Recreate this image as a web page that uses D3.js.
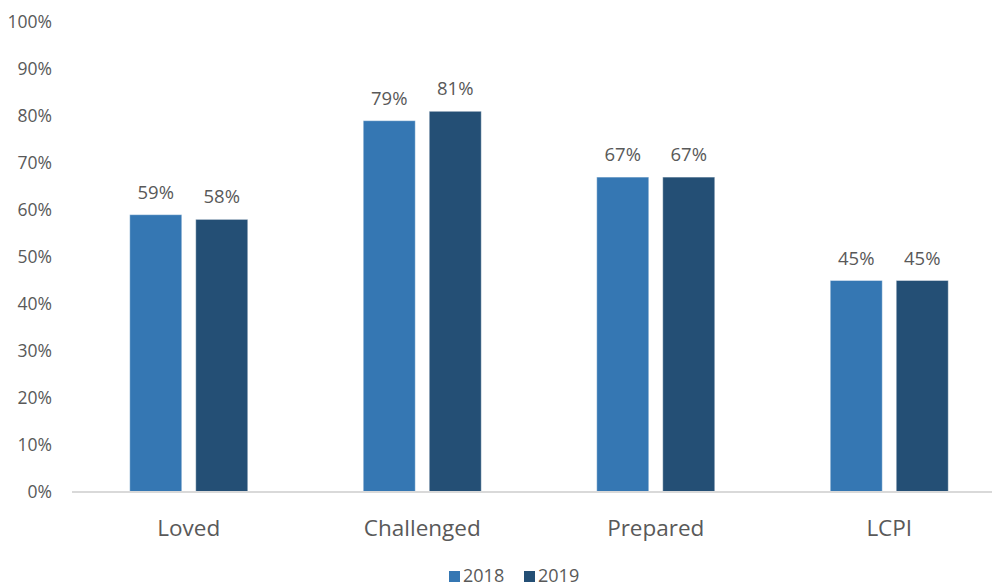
<!DOCTYPE html>
<html>
<head>
<meta charset="utf-8">
<script src="https://cdn.jsdelivr.net/npm/d3@7"></script>
<style>
html,body{margin:0;padding:0;background:#fff;}
svg{display:block;}
text{font-family:"Open Sans","Noto Sans",sans-serif;fill:#595959;}
</style>
</head>
<body>
<svg id="chart" width="992" height="586"></svg>
<script>
const categories = ["Loved", "Challenged", "Prepared", "LCPI"];
const series = ["2018", "2019"];
const values2018 = [59, 79, 67, 45];
const values2019 = [58, 81, 67, 45];
const yTicks = [0, 10, 20, 30, 40, 50, 60, 70, 80, 90, 100];
const colors = ["#3577b3", "#244f75"];

const svg = d3.select("#chart");
const y = d3.scaleLinear().domain([0, 100]).range([492, 22]);
const x0 = d3.scaleBand().domain(categories).range([72, 1006]).padding(0);
const groupW = 118;
const x1 = d3.scaleBand().domain(series).range([0, groupW]).paddingInner(14/66).paddingOuter(0);

const data = categories.map((c, i) => ({cat: c, vals: [values2018[i], values2019[i]]}));

// y axis labels
const yAxis = d3.axisLeft(y).tickValues(yTicks).tickFormat(d => d + "%").tickSize(0).tickPadding(0);
const ya = svg.append("g").attr("transform", "translate(52,0)").call(yAxis);
ya.select(".domain").remove();
ya.selectAll("text").style("font-size", "17.5px").attr("fill", "#595959").attr("font-family", null);

// bars
const g = svg.append("g");
const groups = g.selectAll("g.grp").data(data).join("g")
  .attr("transform", d => `translate(${x0(d.cat) + x0.bandwidth()/2 - groupW/2},0)`);
groups.selectAll("rect").data(d => d.vals.map((v, i) => ({v, s: series[i], i}))).join("rect")
  .attr("x", d => x1(d.s))
  .attr("y", d => y(d.v))
  .attr("width", x1.bandwidth())
  .attr("height", d => y(0) - y(d.v))
  .attr("fill", d => colors[d.i])
  .attr("stroke", "#ffffff").attr("stroke-opacity", 0.4).attr("stroke-width", 1);
groups.selectAll("text.lbl").data(d => d.vals.map((v, i) => ({v, s: series[i], i}))).join("text")
  .attr("class", "lbl")
  .attr("x", d => x1(d.s) + x1.bandwidth()/2)
  .attr("y", d => y(d.v) - 16)
  .attr("text-anchor", "middle")
  .style("font-size", "18.5px")
  .text(d => d.v + "%");

// x axis
const xAxis = d3.axisBottom(x0).tickSize(0).tickPadding(0);
const xa = svg.append("g").attr("transform", "translate(0,492)").call(xAxis);
xa.select(".domain").attr("stroke", "#d9d9d9").attr("stroke-width", 2).attr("d", "M72,0H992");
xa.selectAll("text").attr("dy", null).attr("y", 44).style("font-size", "22.5px").attr("fill", "#595959").attr("font-family", null);

// legend
const leg = svg.append("g");
const legX = [449, 524];
series.forEach((s, i) => {
  leg.append("rect").attr("x", legX[i]).attr("y", 571).attr("width", 11).attr("height", 11).attr("fill", colors[i]);
  leg.append("text").attr("x", legX[i] + 14).attr("y", 582).style("font-size", "18px").text(s);
});
</script>
</body>
</html>
